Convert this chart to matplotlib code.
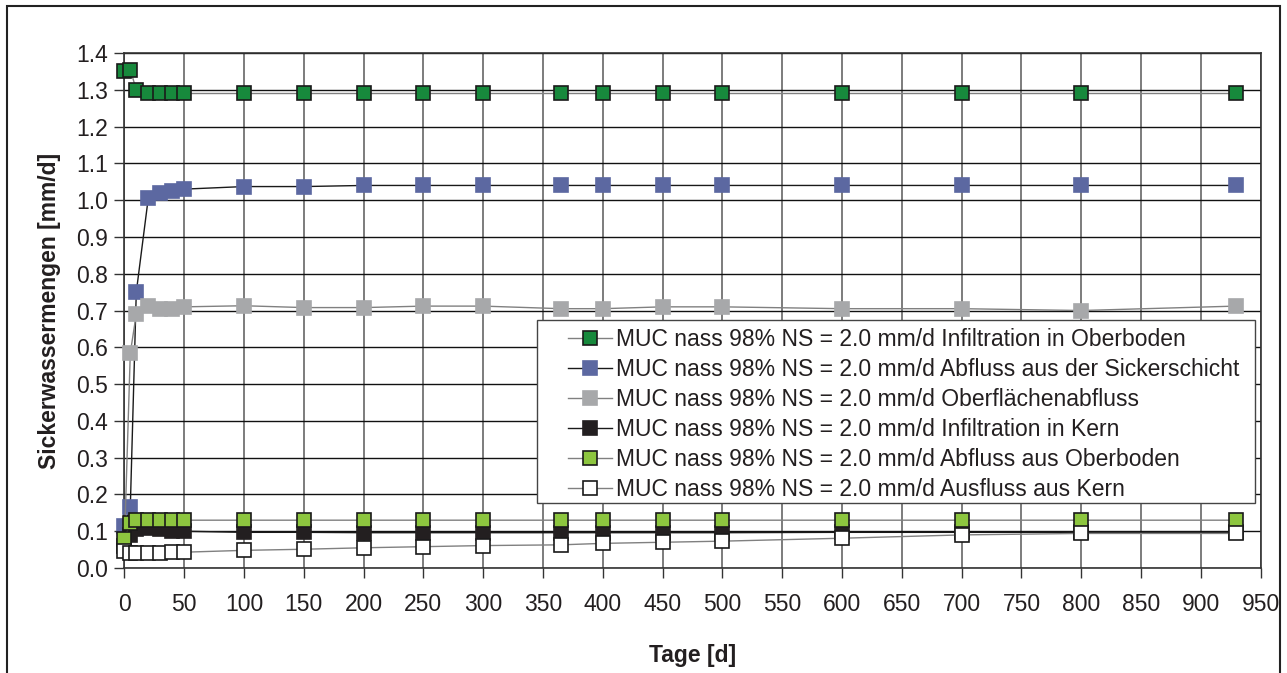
import matplotlib.pyplot as plt
from matplotlib.patches import Rectangle

plt.rcParams['font.family'] = ['Liberation Sans', 'DejaVu Sans']

days = [0, 5, 10, 20, 30, 40, 50, 100, 150, 200, 250, 300, 365, 400, 450, 500, 600, 700, 800, 929]

infil_oberboden = [1.35, 1.355, 1.30, 1.29, 1.29, 1.29, 1.29, 1.29, 1.29, 1.29,
                   1.29, 1.29, 1.29, 1.29, 1.29, 1.29, 1.29, 1.29, 1.29, 1.29]
abfluss_sicker = [0.115, 0.165, 0.75, 1.005, 1.02, 1.025, 1.03, 1.037, 1.037, 1.04,
                  1.04, 1.04, 1.04, 1.04, 1.04, 1.04, 1.04, 1.04, 1.04, 1.04]
oberflaeche = [0.06, 0.585, 0.69, 0.712, 0.705, 0.705, 0.71, 0.713, 0.708, 0.708,
               0.712, 0.712, 0.705, 0.705, 0.71, 0.71, 0.705, 0.705, 0.70, 0.712]
infil_kern = [0.06, 0.09, 0.105, 0.11, 0.105, 0.10, 0.10, 0.097, 0.097, 0.096,
              0.096, 0.096, 0.096, 0.096, 0.096, 0.096, 0.097, 0.097, 0.097, 0.097]
abfluss_oberboden = [0.079, 0.122, 0.13, 0.13, 0.13, 0.13, 0.13, 0.13, 0.13, 0.13,
                     0.13, 0.13, 0.13, 0.13, 0.13, 0.13, 0.13, 0.13, 0.13, 0.13]
ausfluss_kern = [0.045, 0.04, 0.04, 0.04, 0.04, 0.043, 0.043, 0.048, 0.051, 0.055,
                 0.058, 0.061, 0.063, 0.067, 0.070, 0.073, 0.081, 0.09, 0.094, 0.094]

prefix = 'MUC nass 98% NS = 2.0 mm/d '
series = [
    (infil_oberboden, 'Infiltration in Oberboden', '#17893C', '#1a1a1a', '#808080'),
    (abfluss_sicker, 'Abfluss aus der Sickerschicht', '#5C68A1', '#5C68A1', '#1a1a1a'),
    (oberflaeche, 'Oberflächenabfluss', '#A7A8AA', '#A7A8AA', '#808080'),
    (infil_kern, 'Infiltration in Kern', '#231F20', '#231F20', '#1a1a1a'),
    (abfluss_oberboden, 'Abfluss aus Oberboden', '#8DC63F', '#1a1a1a', '#808080'),
    (ausfluss_kern, 'Ausfluss aus Kern', 'white', '#1a1a1a', '#808080'),
]

fs = 16.5
fig = plt.figure(figsize=(12.87, 6.73), dpi=100)
ax = fig.add_axes([0.0966, 0.156, 0.8830, 0.7652])

for vals, name, fc, ec, lc in series:
    ax.plot(days, vals, color=lc, lw=1.0, marker='s', markersize=10,
            markerfacecolor=fc, markeredgecolor=ec, markeredgewidth=1.2,
            label=prefix + name, clip_on=False, zorder=3)

ax.set_xlim(0, 950)
ax.set_ylim(0, 1.4)
ax.set_xticks(range(0, 951, 50))
ax.set_yticks([i / 10 for i in range(15)])
ax.yaxis.set_major_formatter(plt.FuncFormatter(lambda v, p: f'{v:.1f}'))
ax.tick_params(direction='out', length=7, width=1, colors='#333333',
               labelsize=fs, labelcolor='#231F20', pad=5)
ax.tick_params(axis='x', pad=11)

ax.grid(axis='y', color='#111111', lw=1.0)
ax.grid(axis='x', color='#666666', lw=1.2)
ax.set_axisbelow(True)
for s in ax.spines.values():
    s.set_color('#333333')
    s.set_linewidth(1.2)

ax.set_xlabel('Tage [d]', fontsize=fs, fontweight='bold', color='#231F20', labelpad=20)
ax.set_ylabel('Sickerwassermengen [mm/d]', fontsize=fs, fontweight='bold',
              color='#231F20', labelpad=11)

# legend box (drawn separately so the padding can be uneven like the original)
ax.add_patch(Rectangle((0.3632, 0.1262), 0.9950 - 0.3632, 0.4816 - 0.1262,
                       transform=ax.transAxes, facecolor='white',
                       edgecolor='#444444', lw=1.0, zorder=4, clip_on=False))
leg = ax.legend(loc='upper left', bbox_to_anchor=(0.3904, 0.4655), fontsize=fs,
                frameon=False, handlelength=1.9, handletextpad=0.2,
                labelspacing=0.3, borderpad=0, borderaxespad=0)
leg.set_zorder(5)
for t in leg.get_texts():
    t.set_color('#231F20')

fig.patches.append(Rectangle((6.7 / 1287, -0.05), (1280 - 6.7) / 1287, 1.05 - 6 / 673,
                             transform=fig.transFigure, fill=False,
                             edgecolor='#222222', lw=1.5))

fig.savefig('out.png', dpi=100)
